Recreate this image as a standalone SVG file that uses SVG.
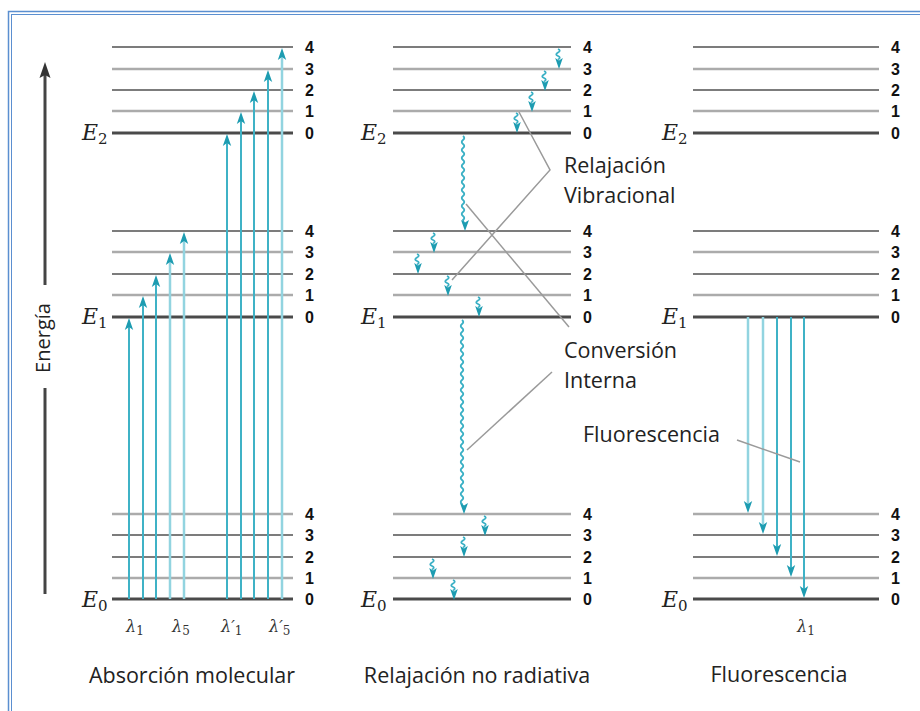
<svg xmlns="http://www.w3.org/2000/svg" xmlns:xlink="http://www.w3.org/1999/xlink" width="920" height="711" viewBox="0 0 920 711">
<style>
.lv0{stroke:#4a4a4a;stroke-width:3}
.lvA{stroke:#7c7c7c;stroke-width:2}
.lvB{stroke:#ababab;stroke-width:2.5}
.num{font-family:"Liberation Sans",Arial,sans-serif;font-weight:bold;font-size:16px;fill:#111}
.E{font-family:"DejaVu Serif","Liberation Serif",serif;font-style:italic;font-size:22px;fill:#222}
.Es{font-family:"DejaVu Serif","Liberation Serif",serif;font-style:normal;font-size:15px;fill:#222}
.lam{font-family:"DejaVu Serif","Liberation Serif",serif;font-style:italic;font-size:16px;fill:#333}
.lams{font-family:"DejaVu Serif","Liberation Serif",serif;font-style:normal;font-size:12px;fill:#333}
.lbl{font-family:"Open Sans","Noto Sans",sans-serif;font-size:21.5px;fill:#222}
.ttl{font-family:"Open Sans","Noto Sans",sans-serif;font-size:21.5px;fill:#222}
.ar{stroke:#3fb2c6;stroke-width:2;fill:none}
.arL{stroke:#92d4e0;stroke-width:2.5;fill:none}
.sq{stroke:#3ab0c5;stroke-width:1.8;fill:none}
.lead{stroke:#9a9a9a;stroke-width:1.5;fill:none}
.head{fill:#1d9cb1}
</style>
<defs>
<path id="hu" d="M0,0 L4.2,12 L0,9 L-4.2,12 Z" class="head"/>
<path id="hd" d="M0,0 L4.2,-12 L0,-9 L-4.2,-12 Z" class="head"/>
<g id="sw">
<path d="M-1,1 q3.5,1.5 0,3.5 t0,3.5 t0,3.5" class="sq"/>
<path d="M0,21 L3.8,10 L0,12.5 L-3.8,10 Z" class="head"/>
</g>
</defs>
<rect x="8.5" y="11.5" width="940" height="740" fill="none" stroke="#5b8fd0" stroke-width="1.5"/>
<rect x="11.5" y="14.5" width="940" height="740" fill="none" stroke="#5b8fd0" stroke-width="1"/>

<g id="energy-axis">
<line x1="45" y1="72" x2="45" y2="285" stroke="#444" stroke-width="3"/>
<line x1="45" y1="388" x2="45" y2="594" stroke="#444" stroke-width="3"/>
<path d="M45,62 L50.5,78 L45,75 L39.5,78 Z" fill="#333"/>
<text x="45" y="338" transform="rotate(-90 45 338)" text-anchor="middle" dominant-baseline="middle" class="ttl" style="font-size:20px">Energía</text>
</g>

<g id="panel-absorcion">
<g id="levels-1">
<line x1="112" y1="47" x2="293" y2="47" class="lvA"/>
<line x1="112" y1="69" x2="293" y2="69" class="lvB"/>
<line x1="112" y1="90" x2="293" y2="90" class="lvA"/>
<line x1="112" y1="111" x2="293" y2="111" class="lvB"/>
<line x1="112" y1="133" x2="293" y2="133" class="lv0"/>
<line x1="112" y1="231" x2="293" y2="231" class="lvA"/>
<line x1="112" y1="252" x2="293" y2="252" class="lvB"/>
<line x1="112" y1="274" x2="293" y2="274" class="lvA"/>
<line x1="112" y1="295" x2="293" y2="295" class="lvB"/>
<line x1="112" y1="317" x2="293" y2="317" class="lv0"/>
<line x1="112" y1="514" x2="293" y2="514" class="lvB"/>
<line x1="112" y1="535" x2="293" y2="535" class="lvA"/>
<line x1="112" y1="557" x2="293" y2="557" class="lvA"/>
<line x1="112" y1="578" x2="293" y2="578" class="lvB"/>
<line x1="112" y1="599" x2="293" y2="599" class="lv0"/>
<g class="num">
<text x="305" y="53">4</text><text x="305" y="75">3</text><text x="305" y="96">2</text><text x="305" y="117">1</text><text x="305" y="139">0</text>
<text x="305" y="237">4</text><text x="305" y="258">3</text><text x="305" y="280">2</text><text x="305" y="301">1</text><text x="305" y="323">0</text>
<text x="305" y="520">4</text><text x="305" y="541">3</text><text x="305" y="563">2</text><text x="305" y="584">1</text><text x="305" y="605">0</text>
</g>
<text x="82" y="140" class="E">E<tspan class="Es" dy="4">2</tspan></text>
<text x="82" y="324" class="E">E<tspan class="Es" dy="4">1</tspan></text>
<text x="82" y="607" class="E">E<tspan class="Es" dy="4">0</tspan></text>
</g>
<g id="absorption-arrows">
<line x1="129" y1="599" x2="129" y2="327" class="ar"/><use xlink:href="#hu" x="129" y="318"/>
<line x1="143" y1="599" x2="143" y2="305" class="ar"/><use xlink:href="#hu" x="143" y="296"/>
<line x1="156" y1="599" x2="156" y2="284" class="ar"/><use xlink:href="#hu" x="156" y="275"/>
<line x1="170" y1="599" x2="170" y2="262" class="arL"/><use xlink:href="#hu" x="170" y="253"/>
<line x1="184" y1="599" x2="184" y2="241" class="arL"/><use xlink:href="#hu" x="184" y="232"/>
<line x1="227" y1="599" x2="227" y2="143" class="ar"/><use xlink:href="#hu" x="227" y="134"/>
<line x1="241" y1="599" x2="241" y2="121" class="ar"/><use xlink:href="#hu" x="241" y="112"/>
<line x1="254" y1="599" x2="254" y2="100" class="ar"/><use xlink:href="#hu" x="254" y="91"/>
<line x1="268" y1="599" x2="268" y2="79" class="ar"/><use xlink:href="#hu" x="268" y="70"/>
<line x1="282" y1="599" x2="282" y2="57" class="arL"/><use xlink:href="#hu" x="282" y="48"/>
</g>
<text x="126" y="632" class="lam">λ<tspan class="lams" dy="3">1</tspan></text>
<text x="172" y="632" class="lam">λ<tspan class="lams" dy="3">5</tspan></text>
<text x="221" y="632" class="lam">λ′<tspan class="lams" dy="3">1</tspan></text>
<text x="269" y="632" class="lam">λ′<tspan class="lams" dy="3">5</tspan></text>
<text x="192" y="683" text-anchor="middle" class="ttl">Absorción molecular</text>
</g>

<g id="panel-relajacion">
<line x1="393" y1="47" x2="571" y2="47" class="lvA"/>
<line x1="393" y1="69" x2="571" y2="69" class="lvB"/>
<line x1="393" y1="90" x2="571" y2="90" class="lvA"/>
<line x1="393" y1="111" x2="571" y2="111" class="lvB"/>
<line x1="393" y1="133" x2="571" y2="133" class="lv0"/>
<line x1="393" y1="231" x2="571" y2="231" class="lvA"/>
<line x1="393" y1="252" x2="571" y2="252" class="lvB"/>
<line x1="393" y1="274" x2="571" y2="274" class="lvA"/>
<line x1="393" y1="295" x2="571" y2="295" class="lvB"/>
<line x1="393" y1="317" x2="571" y2="317" class="lv0"/>
<line x1="393" y1="514" x2="571" y2="514" class="lvB"/>
<line x1="393" y1="535" x2="571" y2="535" class="lvA"/>
<line x1="393" y1="557" x2="571" y2="557" class="lvA"/>
<line x1="393" y1="578" x2="571" y2="578" class="lvB"/>
<line x1="393" y1="599" x2="571" y2="599" class="lv0"/>
<g class="num">
<text x="583" y="53">4</text><text x="583" y="75">3</text><text x="583" y="96">2</text><text x="583" y="117">1</text><text x="583" y="139">0</text>
<text x="583" y="237">4</text><text x="583" y="258">3</text><text x="583" y="280">2</text><text x="583" y="301">1</text><text x="583" y="323">0</text>
<text x="583" y="520">4</text><text x="583" y="541">3</text><text x="583" y="563">2</text><text x="583" y="584">1</text><text x="583" y="605">0</text>
</g>
<text x="361" y="140" class="E">E<tspan class="Es" dy="4">2</tspan></text>
<text x="361" y="324" class="E">E<tspan class="Es" dy="4">1</tspan></text>
<text x="361" y="607" class="E">E<tspan class="Es" dy="4">0</tspan></text>
<g id="squiggles">
<use xlink:href="#sw" x="559" y="48"/>
<use xlink:href="#sw" x="545" y="70"/>
<use xlink:href="#sw" x="532" y="91"/>
<use xlink:href="#sw" x="517" y="112"/>
<path d="M463,136 q2.5,2 0,4 t0,4 t0,4 t0,4 t0,4 t0,4 t0,4 t0,4 t0,4 t0,4 t0,4 t0,4 t0,4 t0,4 t0,4 t0,4 t0,4 t0,4 t0,4 t0,4 t0,4 l1,4" class="sq"/>
<path d="M465,231 L469,220 L465,222.5 L461,220 Z" class="head"/>
<use xlink:href="#sw" x="434" y="232"/>
<use xlink:href="#sw" x="418" y="253"/>
<use xlink:href="#sw" x="448" y="275"/>
<use xlink:href="#sw" x="479" y="296"/>
<path d="M462,320 q2.5,2 0,4 t0,4 t0,4 t0,4 t0,4 t0,4 t0,4 t0,4 t0,4 t0,4 t0,4 t0,4 t0,4 t0,4 t0,4 t0,4 t0,4 t0,4 t0,4 t0,4 t0,4 t0,4 t0,4 t0,4 t0,4 t0,4 t0,4 t0,4 t0,4 t0,4 t0,4 t0,4 t0,4 t0,4 t0,4 t0,4 t0,4 t0,4 t0,4 t0,4 t0,4 t0,4 t0,4 t0,4 t0,4 t0,4 l1,3" class="sq"/>
<path d="M464,514 L468,503 L464,505.5 L460,503 Z" class="head"/>
<use xlink:href="#sw" x="485" y="515"/>
<use xlink:href="#sw" x="464" y="536"/>
<use xlink:href="#sw" x="433" y="558"/>
<use xlink:href="#sw" x="454" y="579"/>
</g>
<text x="477" y="683" text-anchor="middle" class="ttl">Relajación no radiativa</text>
</g>

<g id="panel-fluorescencia">
<line x1="693" y1="47" x2="879" y2="47" class="lvA"/>
<line x1="693" y1="69" x2="879" y2="69" class="lvB"/>
<line x1="693" y1="90" x2="879" y2="90" class="lvA"/>
<line x1="693" y1="111" x2="879" y2="111" class="lvB"/>
<line x1="693" y1="133" x2="879" y2="133" class="lv0"/>
<line x1="693" y1="231" x2="879" y2="231" class="lvA"/>
<line x1="693" y1="252" x2="879" y2="252" class="lvB"/>
<line x1="693" y1="274" x2="879" y2="274" class="lvA"/>
<line x1="693" y1="295" x2="879" y2="295" class="lvB"/>
<line x1="693" y1="317" x2="879" y2="317" class="lv0"/>
<line x1="693" y1="514" x2="879" y2="514" class="lvB"/>
<line x1="693" y1="535" x2="879" y2="535" class="lvA"/>
<line x1="693" y1="557" x2="879" y2="557" class="lvA"/>
<line x1="693" y1="578" x2="879" y2="578" class="lvB"/>
<line x1="693" y1="599" x2="879" y2="599" class="lv0"/>
<g class="num">
<text x="891" y="53">4</text><text x="891" y="75">3</text><text x="891" y="96">2</text><text x="891" y="117">1</text><text x="891" y="139">0</text>
<text x="891" y="237">4</text><text x="891" y="258">3</text><text x="891" y="280">2</text><text x="891" y="301">1</text><text x="891" y="323">0</text>
<text x="891" y="520">4</text><text x="891" y="541">3</text><text x="891" y="563">2</text><text x="891" y="584">1</text><text x="891" y="605">0</text>
</g>
<text x="662" y="140" class="E">E<tspan class="Es" dy="4">2</tspan></text>
<text x="662" y="324" class="E">E<tspan class="Es" dy="4">1</tspan></text>
<text x="662" y="607" class="E">E<tspan class="Es" dy="4">0</tspan></text>
<g id="emission-arrows">
<line x1="748" y1="317" x2="748" y2="504" class="arL"/><use xlink:href="#hd" x="748" y="513"/>
<line x1="763" y1="317" x2="763" y2="525" class="arL"/><use xlink:href="#hd" x="763" y="534"/>
<line x1="777" y1="317" x2="777" y2="547" class="ar"/><use xlink:href="#hd" x="777" y="556"/>
<line x1="791" y1="317" x2="791" y2="568" class="ar"/><use xlink:href="#hd" x="791" y="577"/>
<line x1="804" y1="317" x2="804" y2="589" class="ar"/><use xlink:href="#hd" x="804" y="598"/>
</g>
<text x="797" y="632" class="lam">λ<tspan class="lams" dy="3">1</tspan></text>
<text x="779" y="682" text-anchor="middle" class="ttl">Fluorescencia</text>
</g>

<g id="connectors">
<polyline points="519,112 550,170 452,280" class="lead"/>
<line x1="466" y1="204" x2="569" y2="327" class="lead"/>
<line x1="552" y1="372" x2="467" y2="450" class="lead"/>
<line x1="737" y1="440" x2="800" y2="462" class="lead"/>
</g>

<g id="labels">
<text x="564" y="173" class="lbl">Relajación</text>
<text x="564" y="203" class="lbl">Vibracional</text>
<text x="564" y="358" class="lbl">Conversión</text>
<text x="564" y="388" class="lbl">Interna</text>
<text x="583" y="442" class="lbl">Fluorescencia</text>
</g>
</svg>
